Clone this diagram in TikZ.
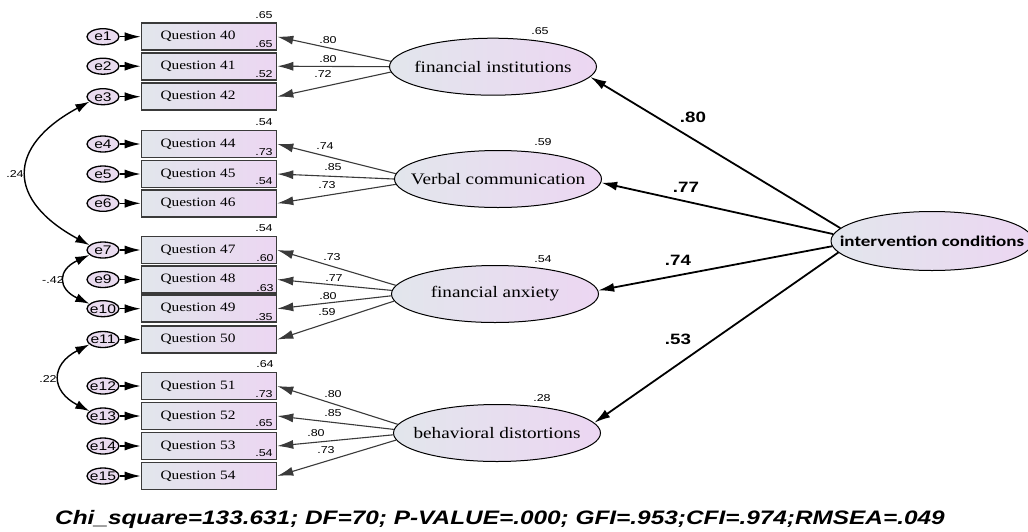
\documentclass[tikz,border=0pt]{standalone}
\usepackage{fontspec}
\setmainfont{Liberation Serif}[FakeStretch=1.2]
\newfontfamily\numfont{Liberation Sans}[FakeStretch=1.25]
\newfontfamily\icfont{Carlito}[FakeStretch=1.27]
\usetikzlibrary{shapes.geometric,arrows.meta}

\definecolor{fillL}{HTML}{E2E6EC}
\definecolor{fillR}{HTML}{ECD6F2}
\definecolor{efill}{HTML}{E9DBEF}
\definecolor{edgegray}{HTML}{3A3A3A}

% zero-width text so that the shape size comes only from minimum width/height
\newcommand\zerow[1]{\makebox[0pt]{#1}}

\tikzset{
  qbox/.style={rectangle, draw=edgegray, line width=1.6pt, left color=fillL, right color=fillR,
    minimum width=135pt, minimum height=27pt, text width=97pt, inner xsep=19pt, inner ysep=0pt,
    align=left, font=\fontsize{12.8}{14}\selectfont},
  errnode/.style={ellipse, draw=black, line width=1.3pt, fill=efill, minimum width=32pt,
    minimum height=16pt, inner sep=0pt, font=\numfont\fontsize{12.5}{14}\selectfont},
  latent/.style={ellipse, draw=black, line width=1pt, left color=fillL, right color=fillR,
    minimum width=207pt, minimum height=57pt, inner sep=0pt, font=\fontsize{16}{18}\selectfont},
  icnode/.style={ellipse, draw=black, line width=1pt, left color=fillL, right color=fillR,
    minimum width=202pt, minimum height=59pt, inner sep=0pt, font=\icfont\bfseries\fontsize{15}{17}\selectfont},
  small/.style={inner sep=0pt, font=\numfont\fontsize{10}{12}\selectfont},
  big/.style={inner sep=0pt, font=\numfont\bfseries\fontsize{15}{17}\selectfont},
  earrow/.style={-{Latex[length=16pt,width=9pt]}, line width=1.5pt, draw=black},
  load/.style={-{Latex[length=16pt,width=9pt]}, line width=1.1pt, draw=edgegray},
  struct/.style={-{Latex[length=16pt,width=9pt]}, line width=1.8pt, draw=black},
  cov/.style={{Latex[length=14pt,width=9pt]}-{Latex[length=14pt,width=9pt]}, line width=1.4pt, draw=black},
}

\begin{document}
\begin{tikzpicture}[x=1pt, y=-1pt]
\useasboundingbox (0,0) rectangle (1028,531);
\fill[white] (0,0) rectangle (1028,531);

% observed indicators
\node[qbox] (q40) at (209,36.7) {Question 40};
\node[qbox] (q41) at (209,66.2) {Question 41};
\node[qbox] (q42) at (209,96.7) {Question 42};
\node[qbox] (q44) at (209,144) {Question 44};
\node[qbox] (q45) at (209,174) {Question 45};
\node[qbox] (q46) at (209,203.3) {Question 46};
\node[qbox] (q47) at (209,250) {Question 47};
\node[qbox] (q48) at (209,279.5) {Question 48};
\node[qbox] (q49) at (209,308.7) {Question 49};
\node[qbox] (q50) at (209,339.5) {Question 50};
\node[qbox] (q51) at (209,386) {Question 51};
\node[qbox] (q52) at (209,416) {Question 52};
\node[qbox] (q53) at (209,446) {Question 53};
\node[qbox] (q54) at (209,476) {Question 54};

% error terms
\node[errnode] (e1) at (103,36.7) {\zerow{e1}};
\node[errnode] (e2) at (103,66.2) {\zerow{e2}};
\node[errnode] (e3) at (103,96.7) {\zerow{e3}};
\node[errnode] (e4) at (103,144) {\zerow{e4}};
\node[errnode] (e5) at (103,174) {\zerow{e5}};
\node[errnode] (e6) at (103,203.3) {\zerow{e6}};
\node[errnode] (e7) at (103,250) {\zerow{e7}};
\node[errnode] (e9) at (103,279.5) {\zerow{e9}};
\node[errnode] (e10) at (103,308.7) {\zerow{e10}};
\node[errnode] (e11) at (103,339.5) {\zerow{e11}};
\node[errnode] (e12) at (103,386) {\zerow{e12}};
\node[errnode] (e13) at (103,416) {\zerow{e13}};
\node[errnode] (e14) at (103,446) {\zerow{e14}};
\node[errnode] (e15) at (103,476) {\zerow{e15}};

\foreach \e/\q in {e1/q40,e2/q41,e3/q42,e4/q44,e5/q45,e6/q46,e7/q47,e9/q48,e10/q49,e11/q50,e12/q51,e13/q52,e14/q53,e15/q54}
  \draw[earrow] (\e) -- (\q);

% latent factors
\node[latent] (fi) at (493,66.7) {\zerow{financial institutions}};
\node[latent] (vc) at (498,179) {\zerow{Verbal communication}};
\node[latent] (fa) at (495,294) {\zerow{financial anxiety}};
\node[latent] (bd) at (497,433) {\zerow{behavioral distortions}};
\node[icnode] (ic) at (932,241) {\zerow{intervention conditions}};

% loadings
\draw[load] (fi.177) -- (q40.east);
\draw[load] (fi.180) -- (q41.east);
\draw[load] (fi.183) -- (q42.east);
\draw[load] (vc.177) -- (q44.east);
\draw[load] (vc.180) -- (q45.east);
\draw[load] (vc.183) -- (q46.east);
\draw[load] (fa.175.5) -- (q47.east);
\draw[load] (fa.178.5) -- (q48.east);
\draw[load] (fa.181.5) -- (q49.east);
\draw[load] (fa.184.5) -- (q50.east);
\draw[load] (bd.175.5) -- (q51.east);
\draw[load] (bd.178.5) -- (q52.east);
\draw[load] (bd.181.5) -- (q53.east);
\draw[load] (bd.184.5) -- (q54.east);

% structural paths
\draw[struct] (ic.172) -- (fi.-6);
\draw[struct] (ic.176.5) -- (vc.-2);
\draw[struct] (ic.183) -- (fa.2);
\draw[struct] (ic.187.5) -- (bd.6.7);

% error covariances
\draw[cov] (e3.200) .. controls +(-83,45) and +(-83,-45) .. (e7.160);
\draw[cov] (e7.200) .. controls +(-32,15) and +(-32,-15) .. (e10.160);
\draw[cov] (e11.200) .. controls +(-39,20) and +(-39,-20) .. (e13.160);
\node[small] (c1) at (15,174) {.24};
\node[small] (c2) at (53,280) {-.42};
\node[small] (c3) at (48,379) {.22};

% loading estimates
\node[small] (l40) at (328,40) {.80};
\node[small] (l41) at (328,59) {.80};
\node[small] (l42) at (323,74) {.72};
\node[small] (l44) at (325,146) {.74};
\node[small] (l45) at (333,167) {.85};
\node[small] (l46) at (327,185) {.73};
\node[small] (l47) at (332,257) {.73};
\node[small] (l48) at (334,278) {.77};
\node[small] (l49) at (328,296) {.80};
\node[small] (l50) at (327,312) {.59};
\node[small] (l51) at (333,394) {.80};
\node[small] (l52) at (333,413) {.85};
\node[small] (l53) at (316,433) {.80};
\node[small] (l54) at (326,450) {.73};

% squared multiple correlations of the indicators
\node[small] (r40) at (264,15) {.65};
\node[small] (r41) at (264,44) {.65};
\node[small] (r42) at (264,74) {.52};
\node[small] (r44) at (264,122) {.54};
\node[small] (r45) at (264,152) {.73};
\node[small] (r46) at (264,181) {.54};
\node[small] (r47) at (264,228) {.54};
\node[small] (r48) at (265,258) {.60};
\node[small] (r49) at (265,288) {.63};
\node[small] (r50) at (264,317) {.35};
\node[small] (r51) at (265,364) {.64};
\node[small] (r52) at (264,394) {.73};
\node[small] (r53) at (264,423) {.65};
\node[small] (r54) at (264,453) {.54};

% squared multiple correlations of the factors
\node[small] (rfi) at (540,31.5) {.65};
\node[small] (rvc) at (543,142.5) {.59};
\node[small] (rfa) at (543,259) {.54};
\node[small] (rbd) at (542,398) {.28};

% structural estimates
\node[big] (s1) at (693,117) {.80};
\node[big] (s2) at (686,187) {.77};
\node[big] (s3) at (678,260) {.74};
\node[big] (s4) at (678,339) {.53};

% fit indices
\node[inner sep=0pt, font=\numfont\bfseries\itshape\fontsize{19.5}{22}\selectfont] (fit) at (500,519)
  {Chi\_square=133.631; DF=70; P-VALUE=.000; GFI=.953;CFI=.974;RMSEA=.049};
\end{tikzpicture}
\end{document}
